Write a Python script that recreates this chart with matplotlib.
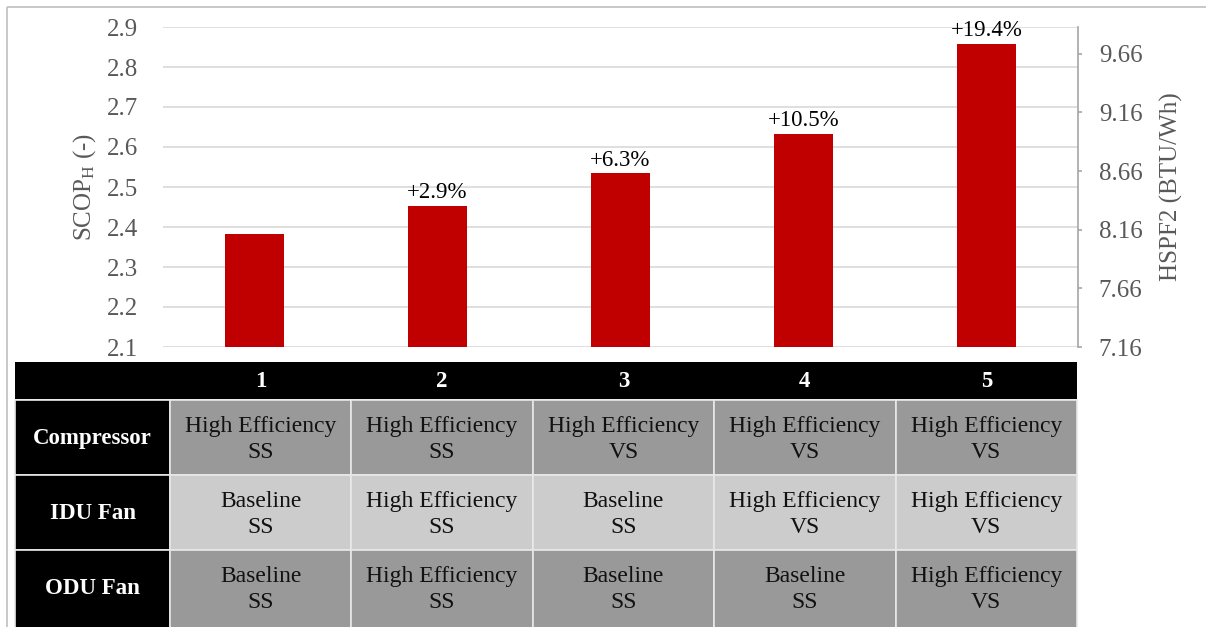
import matplotlib
matplotlib.use('Agg')
import matplotlib.pyplot as plt
from matplotlib.patches import Rectangle

# ---------------- data ----------------
configs = ['1', '2', '3', '4', '5']
scop_h = [2.383, 2.452, 2.534, 2.633, 2.857]
pct_labels = ['', '+2.9%', '+6.3%', '+10.5%', '+19.4%']
left_ticks = [2.1, 2.2, 2.3, 2.4, 2.5, 2.6, 2.7, 2.8, 2.9]
hspf_factor = 3.41
right_ticks = [7.161, 7.661, 8.161, 8.661, 9.161, 9.661]
right_tick_labels = ['7.16', '7.66', '8.16', '8.66', '9.16', '9.66']
row_labels = ['Compressor', 'IDU Fan', 'ODU Fan']
compressor = ['High Efficiency\nSS', 'High Efficiency\nSS', 'High Efficiency\nVS',
              'High Efficiency\nVS', 'High Efficiency\nVS']
idu_fan = ['Baseline\nSS', 'High Efficiency\nSS', 'Baseline\nSS',
           'High Efficiency\nVS', 'High Efficiency\nVS']
odu_fan = ['Baseline\nSS', 'High Efficiency\nSS', 'Baseline\nSS',
           'Baseline\nSS', 'High Efficiency\nVS']
table_rows = [compressor, idu_fan, odu_fan]

# ---------------- style ----------------
plt.rcParams['font.family'] = ['Liberation Serif', 'DejaVu Serif']
plt.rcParams['mathtext.fontset'] = 'custom'
plt.rcParams['mathtext.rm'] = 'Liberation Serif'
plt.rcParams['mathtext.it'] = 'Liberation Serif:italic'
plt.rcParams['mathtext.bf'] = 'Liberation Serif:bold'

W, H = 1206, 627
fig = plt.figure(figsize=(W / 100, H / 100), dpi=100)

# background overlay in pixel coordinates (frame + table)
bg = fig.add_axes([0, 0, 1, 1], zorder=0)
bg.set_xlim(0, W)
bg.set_ylim(H, 0)
bg.axis('off')
bg.plot([7, 7], [7, H], color='#bfbfbf', lw=1.2, solid_capstyle='butt')
bg.plot([7, W], [7, 7], color='#bfbfbf', lw=1.2, solid_capstyle='butt')

# table geometry
tx0, lab_w, tx1 = 15, 155, 1077
col_w = (tx1 - tx0 - lab_w) / len(configs)
hy0, hy1 = 362, 399
row_h = 75
edge = '#e8e8e8'
# header
bg.add_patch(Rectangle((tx0, hy0), tx1 - tx0, hy1 - hy0, facecolor='black',
                       edgecolor='none'))
for j, c in enumerate(configs):
    cx = tx0 + lab_w + (j + 0.5) * col_w
    bg.text(cx, (hy0 + hy1) / 2 + 1, c, ha='center', va='center', color='white',
            fontsize=16.5, fontweight='bold')
row_fill = ['#999999', '#cccccc', '#999999']
for i, (lab, row) in enumerate(zip(row_labels, table_rows)):
    y0 = hy1 + 1 + i * row_h
    h = row_h if i < 2 else H - y0 + 5
    bg.add_patch(Rectangle((tx0, y0), lab_w, h, facecolor='black',
                           edgecolor=edge, lw=1.2))
    yc = y0 + row_h / 2
    bg.text(tx0 + lab_w / 2, yc + 1, lab, ha='center', va='center', color='white',
            fontsize=16.5, fontweight='bold')
    for j, txt in enumerate(row):
        x0 = tx0 + lab_w + j * col_w
        bg.add_patch(Rectangle((x0, y0), col_w, h, facecolor=row_fill[i],
                               edgecolor=edge, lw=1.2))
        bg.text(x0 + col_w / 2, yc + 2, txt, ha='center', va='center',
                color='#111111', fontsize=17, linespacing=1.3)

# ---------------- bar chart ----------------
ax = fig.add_axes([163 / W, (H - 347) / H, 915 / W, 320 / H], zorder=2)
ax.set_facecolor('none')
x = list(range(len(configs)))
bars = ax.bar(x, scop_h, width=0.317, color='#c00000', zorder=3)
for xi, v, lab in zip(x, scop_h, pct_labels):
    if lab:
        ax.annotate(lab, (xi, v), xytext=(0, 2), textcoords='offset points',
                    ha='center', va='bottom', fontsize=16.5, color='black')
ax.set_xlim(-0.5, len(configs) - 0.5)
ax.set_ylim(2.1, 2.9)
ax.set_yticks(left_ticks)
ax.set_yticklabels([f'{t:.1f}' for t in left_ticks])
ax.set_xticks([])
ax.grid(axis='y', color='#d9d9d9', lw=1.2)
ax.set_axisbelow(True)
for s in ax.spines.values():
    s.set_visible(False)
ax.tick_params(axis='y', length=0, pad=18, labelsize=18, labelcolor='#595959')
ax.set_ylabel('SCOP$_\\mathrm{H}$ (-)', fontsize=18, color='#595959')
ax.yaxis.set_label_coords(-0.071, 0.5)

ax2 = ax.twinx()
ax2.set_ylim(2.1 * hspf_factor, 2.9 * hspf_factor)
ax2.set_yticks(right_ticks)
ax2.set_yticklabels(right_tick_labels)
for k, s in ax2.spines.items():
    s.set_visible(k == 'right')
ax2.spines['right'].set_color('#a6a6a6')
ax2.spines['right'].set_linewidth(1.2)
ax2.tick_params(axis='y', length=3, width=1.2, color='#a6a6a6', pad=12,
                labelsize=18, labelcolor='#595959')
ax2.set_ylabel('HSPF2 (BTU/Wh)', fontsize=18, color='#595959')
ax2.yaxis.set_label_coords(1.0896, 0.5)

fig.savefig('out.png', dpi=100)
